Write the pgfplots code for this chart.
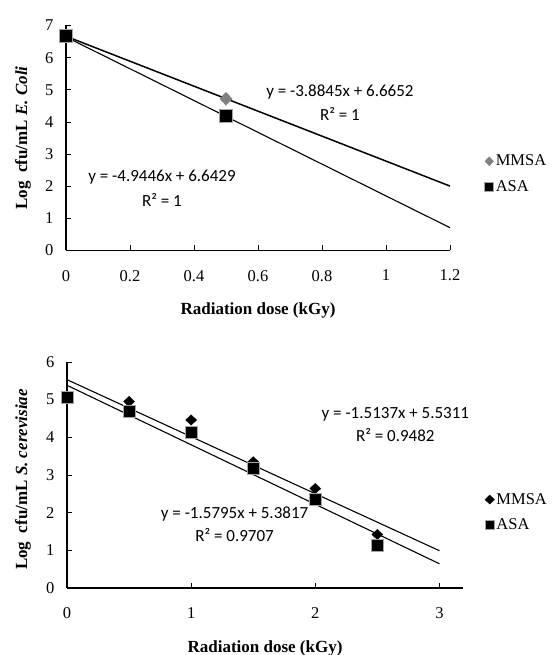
\documentclass[border=0pt]{standalone}
\usepackage{fontspec}
\setmainfont{Liberation Serif}
\newfontfamily\calibri{Carlito}
\usepackage{pgfplots}
\pgfplotsset{compat=1.18}

\definecolor{mkgray}{RGB}{128,128,128}
\definecolor{edgegray}{RGB}{165,165,165}

\tikzset{eq/.style={font=\calibri\fontsize{17}{19}\selectfont, anchor=center}}

\pgfplotsset{
  excel/.style={
    scale only axis,
    axis x line=bottom, axis y line=left,
    axis line style={line width=1.3pt, -},
    tick style={black, line width=0.8pt},
    tick align=inside,
    major tick length=5pt,
    tick label style={font=\fontsize{16.5}{18}\selectfont},
    xticklabel style={yshift=-16pt},
    yticklabel style={xshift=-9pt},
    /pgf/number format/assume math mode=true,
    xlabel style={font=\bfseries\fontsize{17}{19}\selectfont,
      at={(axis description cs:0.5,0)}, anchor=center, yshift=-60pt},
    ylabel style={font=\bfseries\fontsize{17}{19}\selectfont,
      at={(axis description cs:-0.112,0.5)}, anchor=center},
    clip=false,
    legend style={draw=none, fill=none, font=\fontsize{16.5}{18}\selectfont,
      row sep=9pt, inner sep=0pt, cells={anchor=west}},
    legend image code/.code={\draw[#1, mark size=4.5pt] plot coordinates {(0pt,0pt)};},
  }
}

\begin{document}
\begin{tikzpicture}
\useasboundingbox (0pt,0pt) rectangle (553pt,655pt);

% E. coli
\begin{axis}[excel,
  at={(66pt,404.5pt)}, anchor=south west,
  width=384pt, height=225pt,
  xmin=0, xmax=1.2, ymin=0, ymax=7,
  xtick={0,0.2,0.4,0.6,0.8,1,1.2},
  ytick={0,1,2,3,4,5,6,7},
  xlabel={Radiation dose (kGy)},
  ylabel={Log\ \ cfu/mL \textit{E. Coli}},
  legend style={at={(1.09,0.34)}, anchor=west},
]
\addplot[forget plot, black, line width=1.5pt] coordinates {(0,6.6652)(1.2,2.0038)};
\addplot[forget plot, black, line width=1.1pt] coordinates {(0,6.6429)(1.2,0.7094)};
\addplot[only marks, mark=diamond*, mark size=6.5pt, mkgray, mark options={fill=mkgray, draw=mkgray, xscale=1.25}]
  coordinates {(0,6.67)(0.5,4.72)};
\addlegendentry{MMSA}
\addplot[only marks, mark=square*, mark size=6.5pt, mark options={fill=black, draw=edgegray, line width=1pt}]
  coordinates {(0,6.67)(0.5,4.17)};
\addlegendentry{ASA}
\node[eq] at (axis cs:0.856,4.92) {y = -3.8845x + 6.6652};
\node[eq] at (axis cs:0.856,4.26) {R² = 1};
\node[eq] at (axis cs:0.30,2.27) {y = -4.9446x + 6.6429};
\node[eq] at (axis cs:0.30,1.56) {R² = 1};
\end{axis}

% S. cerevisiae
\begin{axis}[excel,
  at={(67pt,67pt)}, anchor=south west,
  width=396pt, height=226pt,
  xmin=0, xmax=3.19, ymin=0, ymax=6,
  xtick={0,1,2,3},
  ytick={0,1,2,3,4,5,6},
  xlabel={Radiation dose (kGy)},
  ylabel={Log\ \ cfu/mL \textit{S. cerevisiae}},
  ylabel style={at={(axis description cs:-0.111,0.48)}},
  legend style={at={(1.055,0.335)}, anchor=west},
]
\addplot[forget plot, black, line width=1.1pt] coordinates {(0,5.5311)(3,0.9900)};
\addplot[forget plot, black, line width=1.1pt] coordinates {(0,5.3817)(3,0.6432)};
\addplot[only marks, mark=diamond*, mark size=5.2pt, black, mark options={fill=black, draw=black, xscale=1.4}]
  coordinates {(0,5.05)(0.5,4.95)(1,4.46)(1.5,3.35)(2,2.64)(2.5,1.42)};
\addlegendentry{MMSA}
\addplot[only marks, mark=square*, mark size=6pt, mark options={fill=black, draw=edgegray, line width=1pt}]
  coordinates {(0,5.07)(0.5,4.69)(1,4.12)(1.5,3.16)(2,2.34)(2.5,1.13)};
\addlegendentry{ASA}
\node[eq] at (axis cs:2.645,4.62) {y = -1.5137x + 5.5311};
\node[eq] at (axis cs:2.645,4.06) {R² = 0.9482};
\node[eq] at (axis cs:1.35,1.96) {y = -1.5795x + 5.3817};
\node[eq] at (axis cs:1.35,1.42) {R² = 0.9707};
\end{axis}
\end{tikzpicture}
\end{document}
